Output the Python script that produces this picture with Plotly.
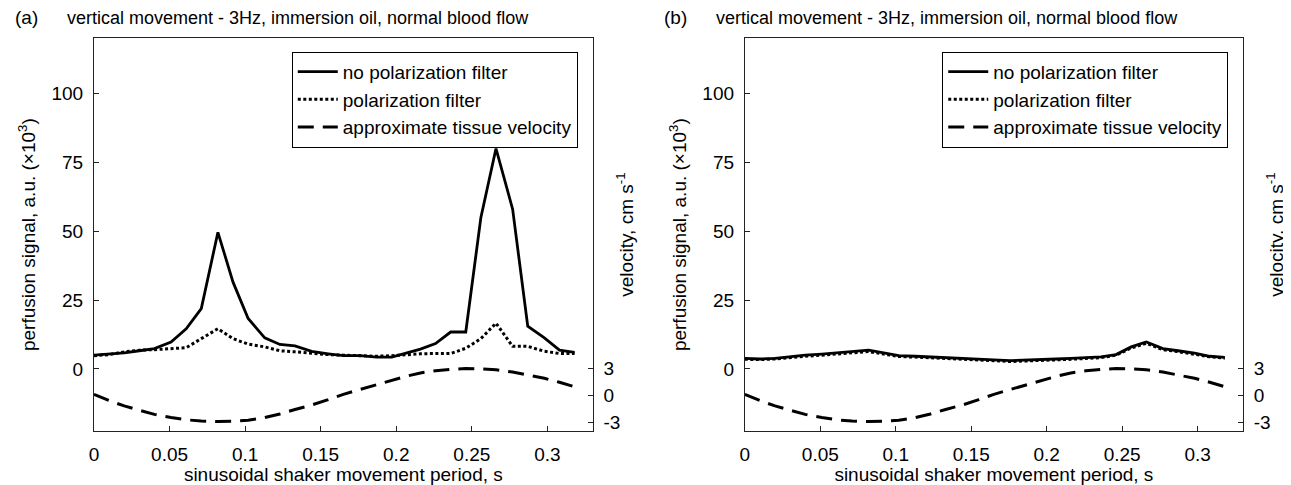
import plotly.graph_objects as go

# ---- data ----
t = [0, 0.010, 0.020, 0.030, 0.040, 0.051, 0.061, 0.071, 0.082, 0.092, 0.102,
     0.113, 0.123, 0.133, 0.144, 0.155, 0.165, 0.176, 0.187, 0.197, 0.206,
     0.216, 0.226, 0.236, 0.246, 0.256, 0.266, 0.277, 0.287, 0.298, 0.308, 0.318]

no_filter_a = [5.0, 5.3, 5.8, 6.6, 7.4, 9.8, 14.6, 21.9, 49.6, 31.5, 18.3,
               11.3, 8.9, 8.4, 6.4, 5.5, 4.8, 4.8, 4.3, 4.3, 5.6,
               7.2, 9.2, 13.4, 13.4, 55.0, 80.0, 58.0, 15.5, 11.3, 6.8, 6.0]
filter_a = [4.8, 5.2, 6.2, 6.8, 7.0, 7.4, 7.7, 11.0, 14.6, 11.0, 9.0,
            8.0, 6.6, 6.2, 5.6, 5.2, 5.0, 4.8, 4.6, 4.8, 5.2,
            5.5, 5.6, 5.6, 7.5, 11.0, 16.6, 8.2, 8.2, 6.4, 5.6, 5.6]

no_filter_b = [3.8, 3.6, 3.8, 4.5, 5.0, 5.4, 5.8, 6.2, 6.8, 5.8, 4.8,
               4.6, 4.4, 4.2, 3.9, 3.6, 3.3, 3.0, 3.3, 3.5, 3.6,
               3.8, 4.0, 4.4, 5.2, 8.0, 9.8, 7.4, 6.6, 5.7, 4.6, 4.2]
filter_b = [3.5, 3.4, 3.6, 4.2, 4.6, 5.0, 5.4, 5.8, 6.3, 5.4, 4.5,
            4.3, 4.1, 3.9, 3.6, 3.3, 3.0, 2.7, 3.0, 3.2, 3.3,
            3.5, 3.7, 4.1, 5.0, 7.6, 9.3, 7.0, 6.3, 5.4, 4.4, 3.9]

velocity = [0.1, -0.6, -1.2, -1.7, -2.15, -2.5, -2.75, -2.9, -2.95, -2.9, -2.8,
            -2.5, -2.1, -1.6, -1.1, -0.5, 0.1, 0.65, 1.2, 1.7, 2.1,
            2.5, 2.75, 2.9, 3.0, 2.95, 2.85, 2.6, 2.3, 1.9, 1.45, 0.95]

series_names = ["no polarization filter", "polarization filter", "approximate tissue velocity"]
panel_labels = ["(a)", "(b)"]
panel_title = "vertical movement - 3Hz, immersion oil, normal blood flow"
x_ticks = [0, 0.05, 0.1, 0.15, 0.2, 0.25, 0.3]
x_ticktext = ["0", "0.05", "0.1", "0.15", "0.2", "0.25", "0.3"]
perf_ticks = [0, 25, 50, 75, 100]
vel_ticks = [-3, 0, 3]
vel_ticktext = ["-3", "0", "3"]

FONT = "Liberation Sans, Arial, Helvetica, sans-serif"
LINE = "#222222"

# page body has an 8px margin; figure is sized to fill the rest of the window
OFF = 8
W, H = 1291 - OFF, 485 - OFF


def px(xp):
    return (xp - OFF) / W


def py(yp):
    return 1 - (yp - OFF) / H


fig = go.Figure()

panels = [
    dict(x="x", y="y", y2="y2", sol=no_filter_a, dot=filter_a, legend="legend"),
    dict(x="x2", y="y3", y2="y4", sol=no_filter_b, dot=filter_b, legend="legend2"),
]
for p in panels:
    fig.add_trace(go.Scatter(x=t, y=p["sol"], mode="lines", name=series_names[0],
                             line=dict(color="black", width=2.8),
                             xaxis=p["x"], yaxis=p["y"], legend=p["legend"]))
    fig.add_trace(go.Scatter(x=t, y=p["dot"], mode="lines", name=series_names[1],
                             line=dict(color="black", width=3, dash="3px,2.5px"),
                             xaxis=p["x"], yaxis=p["y"], legend=p["legend"]))
    fig.add_trace(go.Scatter(x=t, y=velocity, mode="lines", name=series_names[2],
                             line=dict(color="black", width=3, dash="16px,9px"),
                             xaxis=p["x"], yaxis=p["y2"], legend=p["legend"]))

ydom = [py(432.7), py(38.5)]
xdoms = [[px(89.3), px(590)], [px(742.7), px(1242.7)]]

tickfont = dict(family=FONT, size=19, color="black")
titlefont = dict(family=FONT, size=19, color="black")


def xaxis_cfg(dom, anchor):
    return dict(domain=dom, anchor=anchor, range=[0, 0.33], tickvals=x_ticks,
                ticktext=x_ticktext, ticks="inside", ticklen=5, tickcolor=LINE,
                showline=True, linecolor=LINE, linewidth=1, mirror=True,
                showgrid=False, zeroline=False, tickfont=tickfont,
                ticklabelstandoff=6,
                title=dict(text="sinusoidal shaker movement period, s",
                           font=titlefont, standoff=2))


def yleft_cfg(anchor):
    return dict(domain=ydom, anchor=anchor, range=[-22.5, 120], tickvals=perf_ticks,
                ticks="inside", ticklen=5, tickcolor=LINE, showline=True,
                linecolor=LINE, linewidth=1, showgrid=False, zeroline=False,
                tickfont=tickfont, ticklabelstandoff=6,
                title=dict(text="perfusion signal, a.u. (×10<sup>3</sup>)",
                           font=titlefont, standoff=10))


def yright_cfg(anchor, overlay):
    return dict(domain=ydom, anchor=anchor, overlaying=overlay, side="right",
                range=[-4, 40], tickvals=vel_ticks, ticktext=vel_ticktext,
                ticks="inside", ticklen=5, tickcolor=LINE, showline=True,
                linecolor=LINE, linewidth=1, showgrid=False, zeroline=False,
                tickfont=tickfont, ticklabelstandoff=6,
                title=dict(text="velocity, cm s<sup>-1</sup>",
                           font=titlefont, standoff=0))


legend_common = dict(xref="paper", yref="paper", xanchor="right", yanchor="top",
                     bgcolor="white", bordercolor="black", borderwidth=1,
                     font=dict(family=FONT, size=19, color="black"),
                     itemwidth=40, tracegroupgap=0)

fig.update_layout(
    width=W, height=H, autosize=False,
    margin=dict(l=0, r=0, t=0, b=0),
    paper_bgcolor="white", plot_bgcolor="white",
    font=dict(family=FONT, size=19, color="black"),
    xaxis=xaxis_cfg(xdoms[0], "y"),
    xaxis2=xaxis_cfg(xdoms[1], "y3"),
    yaxis=yleft_cfg("x"),
    yaxis2=yright_cfg("x", "y"),
    yaxis3=yleft_cfg("x2"),
    yaxis4=yright_cfg("x2", "y3"),
    legend=dict(x=px(575), y=py(52), **legend_common),
    legend2=dict(x=px(1228), y=py(52), **legend_common),
    showlegend=True,
)

for lab, x0 in zip(panel_labels, [8, 660]):
    fig.add_annotation(text=lab, x=px(x0), y=py(18), xref="paper", yref="paper",
                       xanchor="left", yanchor="middle", showarrow=False,
                       font=dict(family=FONT, size=19, color="black"))
    fig.add_annotation(text=panel_title, x=px(x0 + 52), y=py(18),
                       xref="paper", yref="paper", xanchor="left", yanchor="middle",
                       showarrow=False, font=dict(family=FONT, size=18, color="black"))

fig.write_html("out.html")
